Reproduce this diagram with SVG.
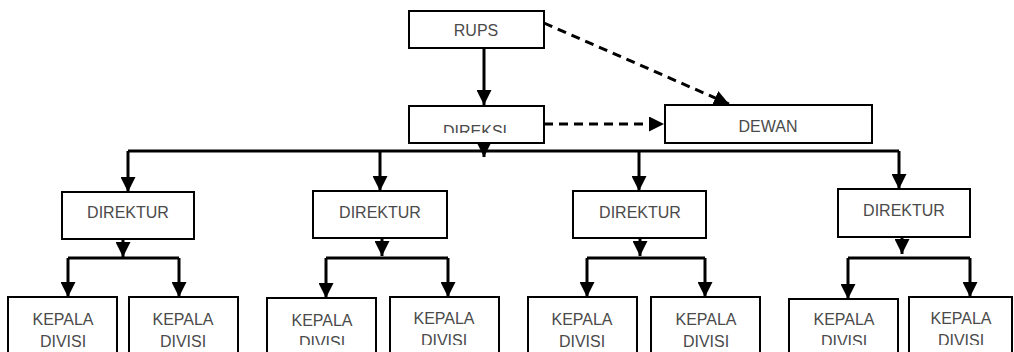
<svg xmlns="http://www.w3.org/2000/svg" width="1014" height="352" viewBox="0 0 1014 352">
<style>
.box{fill:#fff;stroke:#000;stroke-width:2}
.t{font-family:"Liberation Sans",Arial,sans-serif;font-size:16px;fill:#4a4a4a;text-anchor:middle}
.c{fill:none;stroke:#000;stroke-width:3}
.a{marker-end:url(#ah)}
.d{stroke-dasharray:9,6}
</style>
<defs>
<marker id="ah" viewBox="0 0 10 10" refX="10" refY="5" markerWidth="15" markerHeight="15" markerUnits="userSpaceOnUse" orient="auto">
<path d="M0,0 L10,5 L0,10 z" fill="#000"/>
</marker>
<clipPath id="cDireksi"><rect x="408" y="100" width="140" height="33"/></clipPath>
<clipPath id="cLow"><rect x="0" y="290" width="1014" height="55"/></clipPath>
</defs>

<g id="connectors">
<path class="c a" d="M484,48 V105"/>
<path class="c a d" d="M544,23 L729,104"/>
<path class="c a d" d="M544,124 H664"/>
<path class="c" d="M128,151 H899"/>
<path class="c a" d="M484,143 V157"/>
<path class="c a" d="M128,151 V192"/>
<path class="c a" d="M380,151 V191"/>
<path class="c a" d="M639,151 V191"/>
<path class="c a" d="M899,151 V189"/>

<path class="c a" d="M123,239 V257"/>
<path class="c" d="M68,258 H179"/>
<path class="c a" d="M68,258 V297"/>
<path class="c a" d="M179,258 V297"/>

<path class="c a" d="M382,238 V256"/>
<path class="c" d="M326,258 H448"/>
<path class="c a" d="M326,258 V298"/>
<path class="c a" d="M448,258 V297"/>

<path class="c a" d="M640,238 V256"/>
<path class="c" d="M587,258 H705"/>
<path class="c a" d="M587,258 V297"/>
<path class="c a" d="M705,258 V297"/>

<path class="c a" d="M902,237 V254"/>
<path class="c" d="M848,258 H970"/>
<path class="c a" d="M848,258 V299"/>
<path class="c a" d="M970,258 V297"/>
</g>

<g id="rups">
<rect class="box" x="409" y="11" width="135" height="37"/>
<text class="t" x="476" y="36">RUPS</text>
</g>
<g id="direksi">
<rect class="box" x="409" y="106" width="135" height="37"/>
<text class="t" x="475" y="137" clip-path="url(#cDireksi)">DIREKSI</text>
</g>
<g id="dewan">
<rect class="box" x="665" y="105" width="207" height="38"/>
<text class="t" x="768" y="132">DEWAN</text>
</g>

<g id="direktur1">
<rect class="box" x="62" y="192" width="132" height="47"/>
<text class="t" x="128" y="218">DIREKTUR</text>
</g>
<g id="direktur2">
<rect class="box" x="313" y="191" width="134" height="47"/>
<text class="t" x="380" y="218">DIREKTUR</text>
</g>
<g id="direktur3">
<rect class="box" x="573" y="191" width="133" height="47"/>
<text class="t" x="640" y="218">DIREKTUR</text>
</g>
<g id="direktur4">
<rect class="box" x="838" y="189" width="132" height="48"/>
<text class="t" x="904" y="216">DIREKTUR</text>
</g>

<g id="kadiv1">
<rect class="box" x="8" y="297" width="109" height="70"/>
<text class="t" x="63" y="325">KEPALA</text>
<text class="t" x="63" y="347">DIVISI</text>
</g>
<g id="kadiv2">
<rect class="box" x="129" y="297" width="109" height="70"/>
<text class="t" x="183" y="325">KEPALA</text>
<text class="t" x="183" y="347">DIVISI</text>
</g>
<g id="kadiv3">
<rect class="box" x="267" y="298" width="109" height="70"/>
<text class="t" x="322" y="326">KEPALA</text>
<text class="t" x="322" y="348" clip-path="url(#cLow)">DIVISI</text>
</g>
<g id="kadiv4">
<rect class="box" x="390" y="297" width="109" height="70"/>
<text class="t" x="444" y="324">KEPALA</text>
<text class="t" x="444" y="346" clip-path="url(#cLow)">DIVISI</text>
</g>
<g id="kadiv5">
<rect class="box" x="528" y="297" width="109" height="70"/>
<text class="t" x="582" y="325">KEPALA</text>
<text class="t" x="582" y="347">DIVISI</text>
</g>
<g id="kadiv6">
<rect class="box" x="651" y="297" width="109" height="70"/>
<text class="t" x="706" y="325">KEPALA</text>
<text class="t" x="706" y="347">DIVISI</text>
</g>
<g id="kadiv7">
<rect class="box" x="789" y="299" width="109" height="70"/>
<text class="t" x="844" y="325">KEPALA</text>
<text class="t" x="844" y="347" clip-path="url(#cLow)">DIVISI</text>
</g>
<g id="kadiv8">
<rect class="box" x="909" y="297" width="103" height="70"/>
<text class="t" x="961" y="324">KEPALA</text>
<text class="t" x="961" y="346" clip-path="url(#cLow)">DIVISI</text>
</g>
</svg>
